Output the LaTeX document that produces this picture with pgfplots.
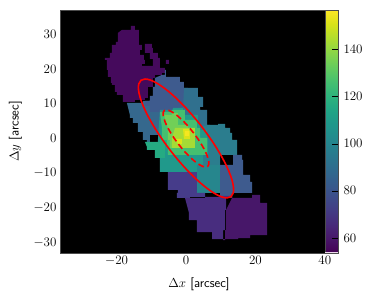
\RequirePackage{fix-cm}
\documentclass[border=0pt]{standalone}
\usepackage{pgfplots}
\pgfplotsset{compat=1.18}
% viridis at the map's scale (53.6 ... 156.7)
\definecolor{v57}{HTML}{450A5C}
\definecolor{v60}{HTML}{471769}
\definecolor{v66}{HTML}{482D7F}
\definecolor{v70}{HTML}{463C8A}
\definecolor{v80}{HTML}{3E5B8E}
\definecolor{v87}{HTML}{35688D}
\definecolor{v90}{HTML}{30708E}
\definecolor{v95}{HTML}{2B7D8E}
\definecolor{v100}{HTML}{26868D}
\definecolor{v107}{HTML}{20998B}
\definecolor{v113}{HTML}{25AB82}
\definecolor{v120}{HTML}{45BF70}
\definecolor{v130}{HTML}{71CF57}
\definecolor{v140}{HTML}{A5DB36}
\definecolor{v150}{HTML}{DCE319}
\definecolor{v155}{HTML}{F6E620}
% region outlines digitised as positions in the 374x301 picture; converted to arcsec here
\pgfplotsset{reg/.style={forget plot,no markers,draw=none,fill=#1,const plot},
  table/dig/.style={x expr=(\thisrowno{0}-186)/3.467,y expr=(138.5-\thisrowno{1})/3.48}}
\begin{document}
\begin{tikzpicture}
\path[use as bounding box] (-60pt,-48pt) rectangle (314pt,253pt);
\begin{axis}[
  at={(0pt,0pt)},anchor=south west,
  scale only axis,width=278pt,height=243pt,
  xmin=-36.3,xmax=43.8,ymin=-32.9,ymax=36.9,
  axis background/.style={fill=black},
  axis line style={draw=black!70},
  xtick={-20,0,20,40},ytick={-30,-20,-10,0,10,20,30},
  tick align=inside,tick style={black},major tick length=5pt,
  xtick pos=bottom,ytick pos=left,
  tick label style={font=\fontsize{13}{15}\selectfont},
  label style={font=\fontsize{13}{15}\selectfont},
  xlabel={$\Delta x$ {\sffamily [arcsec]}},
  ylabel={$\Delta y$ {\sffamily [arcsec]}},
  xlabel style={yshift=-5pt},ylabel style={yshift=5pt},
  colormap/viridis,point meta min=53.6,point meta max=156.7,
  colorbar,
  colorbar style={at={(1,0)},anchor=south east,width=13pt,height=243pt,
    ytick={60,80,100,120,140},yticklabel pos=right,ytick pos=right,
    tick align=inside,major tick length=6pt,tick style={black},
    axis line style={draw=black!70},
    tick label style={font=\fontsize{13}{15}\selectfont},
    yticklabel style={xshift=2pt},
    extra description/.code={\fill[white!85!violet] (rel axis cs:0,0) rectangle (rel axis cs:1,0.006);}},
]
% top purple
\addplot[reg=v57] table[dig] {
122 30
131 30
131 26
135 26
135 30
138 30
139 45
142 50
140 55
144 60
145 64
142 66
157 68
165 70
165 73
162 75
155 78
153 87
148 98
145 100
135 102
127 102
123 95
117 92
115 85
112 83
111 77
108 70
107 60
105 58
110 53
112 45
116 42
118 33
} -- cycle;
\addplot[reg=v57] table[dig] {
145 44
149 44
152 48
153 53
158 58
160 62
160 68
154 66
153 59
150 53
145 52
} -- cycle;
\addplot[reg=v57] table[dig] {
166 60
169 60
169 64
166 64
} -- cycle;
% left upper
\addplot[reg=v87] table[dig] {
127 103
143 101
150 100
165 110
165 135
150 146
147 140
143 132
138 123
133 118
130 115
} -- cycle;
% upper centre
\addplot[reg=v80] table[dig] {
162 75
165 70
166 77
178 77
180 82
184 88
188 112
160 112
150 106
145 101
150 96
153 87
155 78
} -- cycle;
% upper right
\addplot[reg=v90] table[dig] {
184 88
195 88
198 97
203 98
203 107
200 110
207 125
210 140
190 125
183 110
} -- cycle;
% right teal
\addplot[reg=v95] table[dig] {
207 125
218 124
225 128
230 133
232 140
237 148
237 155
233 155
220 165
220 172
200 172
195 130
} -- cycle;
% lower teal
\addplot[reg=v100] table[dig] {
160 150
162 167
170 172
197 172
197 193
220 195
220 165
200 150
} -- cycle;
% lower right blue
\addplot[reg=v80] table[dig] {
220 165
233 155
242 160
243 175
250 182
252 193
232 198
220 195
} -- cycle;
% lower left
\addplot[reg=v70] table[dig] {
168 172
197 172
197 193
205 197
190 198
177 193
178 190
168 178
} -- cycle;
\addplot[reg=v66] table[dig] {
185 198
205 197
220 196
232 198
226 210
225 230
223 239
213 239
212 232
197 220
189 213
} -- cycle;
\addplot[reg=v60] table[dig] {
232 198
252 195
260 203
267 220
267 235
250 238
238 239
223 240
225 230
226 210
} -- cycle;
% inner disc
\addplot[reg=v107] table[dig] {
160 110
173 108
183 115
198 123
200 130
207 138
208 155
203 165
197 172
170 172
160 157
158 140
} -- cycle;
\addplot[reg=v113] table[dig] {
145 142
160 140
167 143
165 158
155 150
147 147
} -- cycle;
\addplot[reg=v120] table[dig] {
160 112
172 110
185 120
197 128
200 138
207 140
207 155
192 155
175 155
168 148
167 140
162 128
} -- cycle;
\addplot[reg=v130] table[dig] {
164 115
172 113
178 125
188 130
192 145
180 148
170 140
168 128
} -- cycle;
\addplot[reg=v140] table[dig] {
175 128
193 128
195 148
178 148
172 138
} -- cycle;
\addplot[reg=v150] table[dig] {
183 129
189 131
190 139
184 139
} -- cycle;
\addplot[reg=v155] table[dig] {
185 131
189 131
189 136
185 136
} -- cycle;
\addplot[reg=v150] table[dig] {
176 139
182 139
182 144
178 144
} -- cycle;
% ellipses
\draw[red,line width=1.6pt,rotate around={127.7:(axis cs:0,0)}] (axis cs:0,0) ellipse [x radius=21.2,y radius=5.65];
\draw[red,line width=1.6pt,dash pattern=on 6pt off 3.5pt,rotate around={127.7:(axis cs:0,0)}] (axis cs:0,0) ellipse [x radius=10.2,y radius=2.7];
\end{axis}
\end{tikzpicture}
\end{document}
